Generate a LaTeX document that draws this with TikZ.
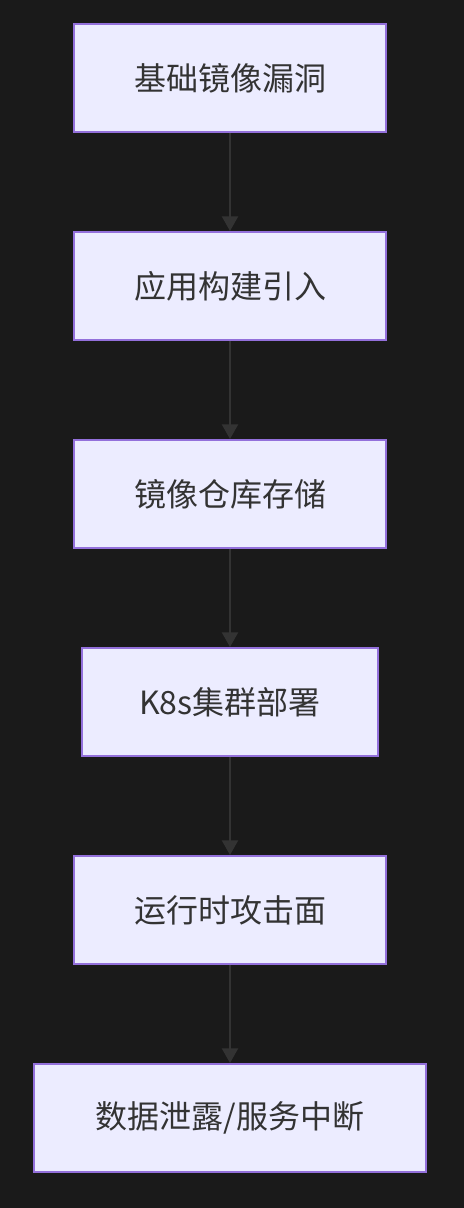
\documentclass[tikz,border=0pt]{standalone}
\usepackage{fontspec}
\newfontfamily\cjk{Noto Sans CJK SC}
\usetikzlibrary{arrows.meta}
\definecolor{bg}{HTML}{1A1A1A}
\definecolor{boxfill}{HTML}{ECECFF}
\definecolor{boxline}{HTML}{9370DB}
\definecolor{edge}{HTML}{333333}
\definecolor{txt}{HTML}{333333}
\begin{document}
\begin{tikzpicture}[x=0.75pt,y=-0.75pt,
  stepbox/.style={draw=boxline,fill=boxfill,line width=1.5pt,minimum height=108*0.75pt,inner sep=0pt,font=\cjk\fontsize{24pt}{28pt}\selectfont,text=txt},
  conn/.style={draw=edge,line width=1.5pt,-{Triangle[length=11pt,width=12pt]}}]
\fill[bg] (0,0) rectangle (464,1208);
\useasboundingbox (0,0) rectangle (464,1208);
\node[stepbox,minimum width=312*0.75pt] (a) at (230,78) {基础镜像漏洞};
\node[stepbox,minimum width=312*0.75pt] (b) at (230,286) {应用构建引入};
\node[stepbox,minimum width=312*0.75pt] (c) at (230,494) {镜像仓库存储};
\node[stepbox,minimum width=296*0.75pt] (d) at (230,702) {K8s集群部署};
\node[stepbox,minimum width=312*0.75pt] (e) at (230,910) {运行时攻击面};
\node[stepbox,minimum width=392*0.75pt] (f) at (230,1118) {数据泄露/服务中断};
\draw[conn] (a) -- (b);
\draw[conn] (b) -- (c);
\draw[conn] (c) -- (d);
\draw[conn] (d) -- (e);
\draw[conn] (e) -- (f);
\end{tikzpicture}
\end{document}
